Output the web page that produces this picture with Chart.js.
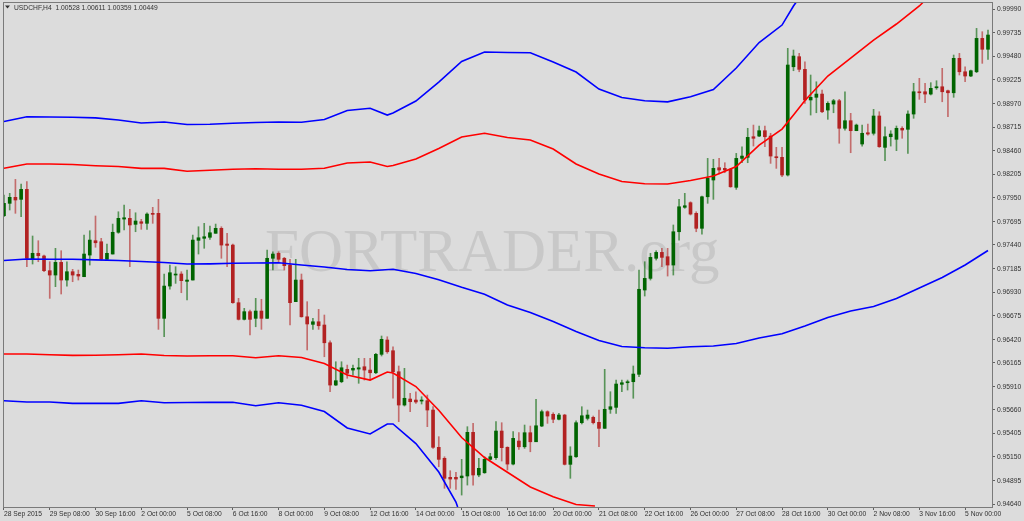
<!DOCTYPE html>
<html>
<head>
<meta charset="utf-8">
<script src="https://cdn.jsdelivr.net/npm/chart.js@4.4.1/dist/chart.umd.min.js"></script>
<style>
  html, body { margin: 0; padding: 0; background: #dcdcdc; }
  #chart { display: block; }
</style>
</head>
<body>
<canvas id="chart" width="1024" height="521"></canvas>
<script>
const titleText = "USDCHF,H4  1.00528 1.00611 1.00359 1.00449";
const watermarkText = "FORTRADER.org";

// one label every 8 bars (H4), starting at bar 0
const timeLabels = [
  "28 Sep 2015", "29 Sep 08:00", "30 Sep 16:00", "2 Oct 00:00", "5 Oct 08:00",
  "6 Oct 16:00", "8 Oct 00:00", "9 Oct 08:00", "12 Oct 16:00", "14 Oct 00:00",
  "15 Oct 08:00", "16 Oct 16:00", "20 Oct 00:00", "21 Oct 08:00", "22 Oct 16:00",
  "26 Oct 00:00", "27 Oct 08:00", "28 Oct 16:00", "30 Oct 00:00", "2 Nov 08:00",
  "3 Nov 16:00", "5 Nov 00:00",
];

const priceTicks = [
  0.94640, 0.94895, 0.95150, 0.95405, 0.95660, 0.95910, 0.96165, 0.96420,
  0.96675, 0.96930, 0.97185, 0.97440, 0.97695, 0.97950, 0.98205, 0.98460,
  0.98715, 0.98970, 0.99225, 0.99480, 0.99735, 0.99990,
];

const open = [
  0.97756, 0.97890, 0.97955, 0.97933, 0.98041, 0.97285, 0.97350, 0.97321, 0.97162, 0.97115,
  0.97252, 0.97061, 0.97151, 0.97123, 0.97097, 0.97331, 0.97486, 0.97475, 0.97285, 0.97342,
  0.97577, 0.97720, 0.97728, 0.97663, 0.97691, 0.97674, 0.97782, 0.97782, 0.96647, 0.96996,
  0.97115, 0.97126, 0.97047, 0.97061, 0.97490, 0.97512, 0.97523, 0.97566, 0.97620, 0.97450,
  0.97439, 0.96816, 0.96636, 0.96719, 0.96647, 0.96726, 0.96647, 0.97296, 0.97350, 0.97296,
  0.97223, 0.96827, 0.97061, 0.96664, 0.96582, 0.96610, 0.96575, 0.96383, 0.95926, 0.95962,
  0.96096, 0.96088, 0.96099, 0.96124, 0.96088, 0.96059, 0.96258, 0.96413, 0.96297, 0.96070,
  0.95710, 0.95775, 0.95764, 0.95753, 0.95757, 0.95656, 0.95253, 0.95134, 0.94929, 0.94929,
  0.94924, 0.94943, 0.95415, 0.94954, 0.94978, 0.95123, 0.95141, 0.95429, 0.95253, 0.95072,
  0.95321, 0.95259, 0.95411, 0.95313, 0.95483, 0.95638, 0.95610, 0.95556, 0.95602, 0.95069,
  0.95151, 0.95519, 0.95566, 0.95577, 0.95523, 0.95458, 0.95664, 0.95685, 0.95934, 0.95951,
  0.95962, 0.96042, 0.96953, 0.97079, 0.97296, 0.97360, 0.97313, 0.97223, 0.97583, 0.97847,
  0.97897, 0.97782, 0.97620, 0.97961, 0.98142, 0.98275, 0.98268, 0.98258, 0.98063, 0.98376,
  0.98387, 0.98610, 0.98617, 0.98675, 0.98617, 0.98394, 0.98387, 0.98196, 0.99366, 0.99475,
  0.99338, 0.99007, 0.99036, 0.99071, 0.98898, 0.98963, 0.98999, 0.98701, 0.98783, 0.98675,
  0.98531, 0.98653, 0.98647, 0.98834, 0.98495, 0.98610, 0.98582, 0.98701, 0.98690, 0.98855,
  0.99096, 0.99096, 0.99071, 0.99139, 0.99150, 0.99107, 0.99085, 0.99457, 0.99312, 0.99266,
  0.99312, 0.99673, 0.99555,
];
const high = [
  0.97980, 0.97998, 0.98149, 0.98099, 0.98124, 0.97537, 0.97486, 0.97331, 0.97259, 0.97404,
  0.97378, 0.97259, 0.97177, 0.97169, 0.97547, 0.97594, 0.97753, 0.97512, 0.97450, 0.97666,
  0.97799, 0.97872, 0.97825, 0.97788, 0.97717, 0.97788, 0.97847, 0.97933, 0.97126, 0.97223,
  0.97205, 0.97151, 0.97169, 0.97547, 0.97637, 0.97674, 0.97645, 0.97666, 0.97637, 0.97566,
  0.97450, 0.96863, 0.96755, 0.96737, 0.96863, 0.96853, 0.97385, 0.97367, 0.97367, 0.97306,
  0.97285, 0.97285, 0.97126, 0.96827, 0.96647, 0.96744, 0.96683, 0.96405, 0.96178, 0.96178,
  0.96142, 0.96142, 0.96215, 0.96215, 0.96215, 0.96269, 0.96456, 0.96448, 0.96340, 0.96132,
  0.96107, 0.95837, 0.95854, 0.95800, 0.95818, 0.95692, 0.95368, 0.95151, 0.95000, 0.94983,
  0.95123, 0.95476, 0.95512, 0.95134, 0.95151, 0.95188, 0.95530, 0.95519, 0.95259, 0.95422,
  0.95411, 0.95494, 0.95483, 0.95772, 0.95656, 0.95648, 0.95627, 0.95620, 0.95610, 0.95259,
  0.95540, 0.95692, 0.95656, 0.95591, 0.95656, 0.96096, 0.95854, 0.95980, 0.95980, 0.95980,
  0.96132, 0.97169, 0.97259, 0.97350, 0.97378, 0.97404, 0.97404, 0.97656, 0.97933, 0.97998,
  0.97907, 0.97799, 0.97969, 0.98376, 0.98366, 0.98376, 0.98329, 0.98268, 0.98430, 0.98502,
  0.98701, 0.98736, 0.98726, 0.98726, 0.98647, 0.98495, 0.98495, 0.99565, 0.99547, 0.99511,
  0.99420, 0.99277, 0.99204, 0.99115, 0.98988, 0.99014, 0.99014, 0.99096, 0.98863, 0.98747,
  0.98736, 0.98747, 0.98906, 0.98880, 0.98718, 0.98675, 0.98726, 0.98718, 0.98891, 0.99187,
  0.99241, 0.99187, 0.99194, 0.99215, 0.99349, 0.99115, 0.99493, 0.99511, 0.99366, 0.99331,
  0.99781, 0.99745, 0.99763,
];
const low = [
  0.97745, 0.97818, 0.97782, 0.97745, 0.97205, 0.97234, 0.97259, 0.97151, 0.96863, 0.96989,
  0.96910, 0.96996, 0.97043, 0.97061, 0.97097, 0.97223, 0.97415, 0.97277, 0.97270, 0.97342,
  0.97566, 0.97602, 0.97205, 0.97583, 0.97609, 0.97609, 0.97674, 0.96528, 0.96448, 0.96961,
  0.97025, 0.96924, 0.96845, 0.97061, 0.97342, 0.97404, 0.97501, 0.97566, 0.97296, 0.97205,
  0.96810, 0.96629, 0.96629, 0.96467, 0.96556, 0.96528, 0.96647, 0.97169, 0.97248, 0.97169,
  0.96575, 0.96827, 0.96660, 0.96305, 0.96528, 0.96528, 0.96232, 0.95854, 0.95920, 0.95951,
  0.95999, 0.96034, 0.95945, 0.95980, 0.95980, 0.96050, 0.96240, 0.96269, 0.95783, 0.95530,
  0.95699, 0.95638, 0.95728, 0.95721, 0.95476, 0.95242, 0.95043, 0.94810, 0.94810, 0.94799,
  0.94737, 0.94845, 0.94845, 0.94935, 0.94972, 0.95116, 0.95123, 0.95105, 0.95008, 0.95062,
  0.95231, 0.95242, 0.95205, 0.95313, 0.95476, 0.95512, 0.95519, 0.95548, 0.95062, 0.94918,
  0.95145, 0.95505, 0.95548, 0.95505, 0.95259, 0.95458, 0.95620, 0.95620, 0.95854, 0.95872,
  0.95783, 0.96016, 0.96888, 0.97061, 0.97277, 0.97205, 0.97104, 0.97115, 0.97493, 0.97836,
  0.97764, 0.97583, 0.97558, 0.97890, 0.97933, 0.98207, 0.98221, 0.98063, 0.98041, 0.98329,
  0.98329, 0.98509, 0.98610, 0.98502, 0.98322, 0.98268, 0.98178, 0.98185, 0.99323, 0.99312,
  0.98971, 0.98844, 0.98869, 0.98869, 0.98798, 0.98869, 0.98539, 0.98682, 0.98437, 0.98675,
  0.98509, 0.98628, 0.98628, 0.98495, 0.98351, 0.98509, 0.98459, 0.98593, 0.98430, 0.98809,
  0.99014, 0.98977, 0.99061, 0.99122, 0.98988, 0.98826, 0.99036, 0.99277, 0.99204, 0.99258,
  0.99302, 0.99403, 0.99446,
];
const close = [
  0.97890, 0.97955, 0.97926, 0.98041, 0.97296, 0.97350, 0.97324, 0.97162, 0.97115, 0.97252,
  0.97061, 0.97151, 0.97115, 0.97104, 0.97342, 0.97493, 0.97464, 0.97285, 0.97350, 0.97577,
  0.97728, 0.97734, 0.97656, 0.97699, 0.97674, 0.97774, 0.97771, 0.96647, 0.96996, 0.97140,
  0.97126, 0.97054, 0.97061, 0.97493, 0.97518, 0.97529, 0.97572, 0.97620, 0.97439, 0.97436,
  0.96816, 0.96636, 0.96719, 0.96636, 0.96726, 0.96647, 0.97296, 0.97342, 0.97285, 0.97216,
  0.96816, 0.97061, 0.96664, 0.96586, 0.96610, 0.96567, 0.96383, 0.95926, 0.95973, 0.96113,
  0.96053, 0.96107, 0.96113, 0.96088, 0.96059, 0.96258, 0.96420, 0.96286, 0.96070, 0.95710,
  0.95783, 0.95746, 0.95743, 0.95764, 0.95656, 0.95253, 0.95123, 0.94918, 0.94910, 0.94910,
  0.94943, 0.95415, 0.94954, 0.95026, 0.95123, 0.95151, 0.95429, 0.95249, 0.95072, 0.95350,
  0.95259, 0.95411, 0.95313, 0.95486, 0.95638, 0.95591, 0.95556, 0.95602, 0.95069, 0.95159,
  0.95519, 0.95594, 0.95602, 0.95519, 0.95458, 0.95664, 0.95692, 0.95937, 0.95951, 0.95962,
  0.96045, 0.96961, 0.97079, 0.97306, 0.97360, 0.97306, 0.97223, 0.97583, 0.97853, 0.97864,
  0.97774, 0.97620, 0.97961, 0.98160, 0.98268, 0.98250, 0.98250, 0.98069, 0.98376, 0.98401,
  0.98603, 0.98593, 0.98675, 0.98610, 0.98401, 0.98383, 0.98196, 0.99385, 0.99482, 0.99338,
  0.99007, 0.99036, 0.99071, 0.98880, 0.98971, 0.98999, 0.98701, 0.98783, 0.98675, 0.98736,
  0.98647, 0.98639, 0.98834, 0.98502, 0.98610, 0.98639, 0.98701, 0.98682, 0.98855, 0.99096,
  0.99085, 0.99071, 0.99133, 0.99150, 0.99096, 0.99085, 0.99457, 0.99312, 0.99266, 0.99323,
  0.99673, 0.99555, 0.99709,
];

// indicator lines, read at the listed bar positions
const upperBlueBars = [0, 4, 8, 12, 16, 20, 24, 28, 32, 36, 40, 44, 48, 52, 56, 60, 64, 67, 68, 72,
  76, 80, 84, 88, 92, 96, 100, 104, 108, 112, 116, 120, 124, 128, 132, 136, 138, 138.5];
const upperBlue = [0.98774, 0.98825, 0.98823, 0.98820, 0.98814, 0.98790, 0.98758, 0.98769, 0.98742,
  0.98745, 0.98755, 0.98763, 0.98769, 0.98766, 0.98796, 0.98893, 0.98917, 0.98844, 0.98866, 0.98996,
  0.99201, 0.99423, 0.99525, 0.99520, 0.99518, 0.99417, 0.99309, 0.99125, 0.99034, 0.98998, 0.98987,
  0.99042, 0.99120, 0.99352, 0.99628, 0.99817, 1.00023, 1.00066];

const upperRedBars = [0, 4, 8, 12, 16, 20, 24, 28, 32, 36, 40, 44, 48, 52, 56, 60, 64, 67, 68, 72,
  76, 80, 84, 88, 92, 96, 100, 104, 108, 112, 116, 120, 124, 128, 132, 136, 138, 140, 144, 148, 152,
  156, 160, 160.7];
const upperRed = [0.98269, 0.98315, 0.98315, 0.98309, 0.98296, 0.98288, 0.98268, 0.98268, 0.98236,
  0.98248, 0.98259, 0.98264, 0.98259, 0.98259, 0.98269, 0.98326, 0.98336, 0.98288, 0.98299, 0.98369,
  0.98482, 0.98607, 0.98647, 0.98601, 0.98574, 0.98477, 0.98315, 0.98207, 0.98126, 0.98101, 0.98099,
  0.98137, 0.98185, 0.98288, 0.98520, 0.98693, 0.98844, 0.99001, 0.99266, 0.99460, 0.99655, 0.99828,
  1.00023, 1.00066];

const middleBlueBars = [0, 4, 8, 12, 16, 20, 24, 28, 32, 36, 40, 44, 48, 52, 56, 60, 64, 68, 72, 76,
  80, 84, 88, 92, 96, 100, 104, 108, 112, 116, 120, 124, 128, 132, 136, 140, 144, 148, 152, 156, 160,
  164, 168, 172];
const middleBlue = [0.97272, 0.97288, 0.97286, 0.97285, 0.97279, 0.97272, 0.97261, 0.97250, 0.97234,
  0.97236, 0.97242, 0.97245, 0.97247, 0.97223, 0.97202, 0.97175, 0.97162, 0.97177, 0.97131, 0.97064,
  0.96982, 0.96907, 0.96791, 0.96710, 0.96613, 0.96504, 0.96407, 0.96342, 0.96329, 0.96323, 0.96340,
  0.96348, 0.96375, 0.96434, 0.96481, 0.96564, 0.96656, 0.96726, 0.96775, 0.96861, 0.96975, 0.97088,
  0.97223, 0.97380];

const lowerRedBars = [0, 4, 8, 12, 16, 20, 24, 28, 32, 36, 40, 44, 48, 52, 56, 60, 64, 67, 68, 72,
  76, 80, 84, 88, 92, 96, 100, 103.3];
const lowerRed = [0.96261, 0.96261, 0.96254, 0.96247, 0.96248, 0.96253, 0.96261, 0.96245, 0.96240,
  0.96243, 0.96242, 0.96221, 0.96242, 0.96223, 0.96159, 0.96034, 0.95980, 0.96067, 0.96056, 0.95910,
  0.95653, 0.95359, 0.95143, 0.94984, 0.94824, 0.94719, 0.94635, 0.94619];

const lowerBlueBars = [0, 4, 8, 12, 16, 20, 24, 28, 32, 36, 40, 44, 48, 52, 56, 60, 64, 67, 68, 72,
  76, 79, 79.3];
const lowerBlue = [0.95757, 0.95743, 0.95743, 0.95728, 0.95728, 0.95728, 0.95757, 0.95735, 0.95737,
  0.95739, 0.95740, 0.95703, 0.95734, 0.95708, 0.95640, 0.95462, 0.95397, 0.95505, 0.95505, 0.95294,
  0.94986, 0.94662, 0.94608];

const BG = "#dcdcdc";
const UP = "#006400";
const DOWN = "#b22222";
const TEXT_COLOR = "#303030";
const TEXT_FONT = "8px 'Liberation Sans', Arial, sans-serif";
const SQUEEZE = 0.84; // terminal font is narrower than anything installed

function lineSet(bars, values, color) {
  return {
    type: "line",
    data: bars.map((b, k) => ({ x: b, y: values[k] })),
    borderColor: color,
    borderWidth: 1.6,
    pointRadius: 0,
    tension: 0,
    order: 0,
  };
}

function narrowText(ctx, text, x, y) {
  ctx.save();
  ctx.translate(x, y);
  ctx.scale(SQUEEZE, 1);
  ctx.fillText(text, 0, 0);
  ctx.restore();
}

const isUp = close.map((c, i) => c >= open[i]);
const bodies = open.map((o, i) => ({ x: i, y: [o, close[i]] }));
const wicks = high.map((h, i) => ({ x: i, y: [low[i], h] }));

// background, watermark, frame, axis labels and symbol caption
const chromePlugin = {
  id: "chrome",
  beforeDraw(chart) {
    const { ctx, width, height } = chart;
    ctx.save();
    ctx.fillStyle = BG;
    ctx.fillRect(0, 0, width, height);
    ctx.restore();
  },
  beforeDatasetsDraw(chart) {
    const { ctx } = chart;
    ctx.save();
    ctx.font = "61px 'Liberation Serif', 'DejaVu Serif', serif";
    ctx.fillStyle = "#c8c8c8";
    ctx.textBaseline = "alphabetic";
    ctx.fillText(watermarkText, 265, 271);
    ctx.restore();
  },
  afterDraw(chart) {
    const { ctx, chartArea: a, scales } = chart;
    ctx.save();
    ctx.strokeStyle = "#7a7a7a";
    ctx.lineWidth = 1;
    ctx.strokeRect(a.left + 0.5, a.top + 0.5, a.right - a.left, a.bottom - a.top);

    ctx.fillStyle = TEXT_COLOR;
    ctx.font = TEXT_FONT;
    ctx.textBaseline = "middle";
    ctx.textAlign = "left";
    timeLabels.forEach((t, k) => {
      narrowText(ctx, t, scales.x.getPixelForValue(k * 8), 513.5);
    });
    priceTicks.forEach((v) => {
      narrowText(ctx, v.toFixed(5), a.right + 5, scales.y.getPixelForValue(v));
    });

    ctx.beginPath();
    ctx.moveTo(5, 5.5);
    ctx.lineTo(10, 5.5);
    ctx.lineTo(7.5, 8.5);
    ctx.closePath();
    ctx.fill();
    narrowText(ctx, titleText, 14, 7.5);
    ctx.restore();
  },
};

new Chart(document.getElementById("chart"), {
  type: "bar",
  data: {
    datasets: [
      lineSet(upperBlueBars, upperBlue, "#0000ff"),
      lineSet(upperRedBars, upperRed, "#ff0000"),
      lineSet(middleBlueBars, middleBlue, "#0000ff"),
      lineSet(lowerRedBars, lowerRed, "#ff0000"),
      lineSet(lowerBlueBars, lowerBlue, "#0000ff"),
      {
        data: bodies,
        backgroundColor: isUp.map((u) => (u ? UP : DOWN)),
        barThickness: 3,
        minBarLength: 1,
        grouped: false,
        order: 1,
      },
      {
        data: wicks,
        backgroundColor: isUp.map((u) => (u ? "rgba(0,100,0,0.6)" : "rgba(178,34,34,0.6)")),
        barThickness: 1,
        grouped: false,
        order: 2,
      },
    ],
  },
  options: {
    responsive: false,
    animation: false,
    layout: { padding: { left: 3, top: 2, right: 0, bottom: 0 } },
    plugins: { legend: { display: false }, tooltip: { enabled: false } },
    scales: {
      x: {
        type: "linear",
        min: -0.17,
        max: 172.7,
        offset: false,
        border: { display: false },
        grid: { offset: false, drawOnChartArea: false, drawTicks: true, tickLength: 3, color: "#606060" },
        ticks: { display: false, autoSkip: false },
        afterBuildTicks: (scale) => {
          scale.ticks = timeLabels.map((_, k) => ({ value: k * 8 }));
        },
        afterFit: (scale) => { scale.height = 14; },
      },
      y: {
        position: "right",
        min: 0.94608,
        max: 1.00066,
        border: { display: false },
        grid: { drawOnChartArea: false, drawTicks: true, tickLength: 3, color: "#606060" },
        ticks: { display: false, autoSkip: false },
        afterBuildTicks: (scale) => {
          scale.ticks = priceTicks.map((v) => ({ value: v }));
        },
        afterFit: (scale) => { scale.width = 32; },
      },
    },
  },
  plugins: [chromePlugin],
});
</script>
</body>
</html>
